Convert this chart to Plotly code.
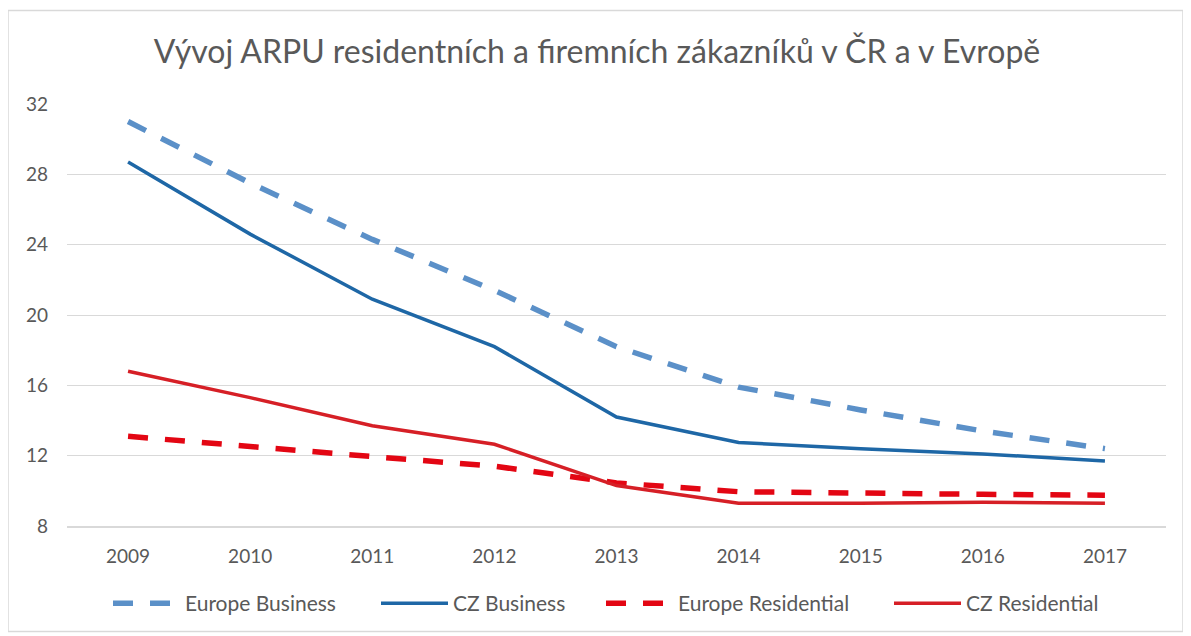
import plotly.graph_objects as go

years = ["2009", "2010", "2011", "2012", "2013", "2014", "2015", "2016", "2017"]
europe_business = [31.0, 27.5, 24.3, 21.4, 18.2, 15.9, 14.6, 13.4, 12.4]
cz_business = [28.7, 24.6, 20.9, 18.2, 14.2, 12.75, 12.4, 12.1, 11.7]
europe_residential = [13.1, 12.5, 11.95, 11.4, 10.45, 9.95, 9.85, 9.8, 9.75]
cz_residential = [16.8, 15.3, 13.7, 12.65, 10.3, 9.3, 9.3, 9.35, 9.3]
y_ticks = [8, 12, 16, 20, 24, 28, 32]

title_text = "Vývoj ARPU residentních a firemních zákazníků v ČR a v Evropě"

FONT = "Lato"
GREY = "#595959"
OFF = 8  # page body margin offset

W, H = 1191 - OFF, 636 - OFF
L, R, T, B = 67 - OFF, 1166 - OFF, 104 - OFF, 528 - OFF

def px_x(p):
    return (p - OFF - L) / (R - L)

def px_y(p):
    return (B - (p - OFF)) / (B - T)

fig = go.Figure()
fig.add_trace(go.Scatter(x=years, y=europe_business, name="Europe Business", mode="lines",
                         legend="legend",
                         line=dict(color="#5b90c8", width=5.5, dash="20px,17px")))
fig.add_trace(go.Scatter(x=years, y=cz_business, name="CZ Business", mode="lines",
                         legend="legend2",
                         line=dict(color="#1e67a6", width=3.5)))
fig.add_trace(go.Scatter(x=years, y=europe_residential, name="Europe Residential", mode="lines",
                         legend="legend3",
                         line=dict(color="#e30613", width=5.5, dash="20px,17px")))
fig.add_trace(go.Scatter(x=years, y=cz_residential, name="CZ Residential", mode="lines",
                         legend="legend4",
                         line=dict(color="#d61f26", width=3.5)))

def leg(sym_start):
    return dict(orientation="h", x=px_x(sym_start - 5), xanchor="left",
                y=px_y(606), yanchor="middle",
                font=dict(family=FONT, size=21, color=GREY), itemwidth=67,
                bgcolor="rgba(0,0,0,0)")

fig.update_layout(
    width=W, height=H,
    margin=dict(l=L, r=W - R, t=T, b=H - B),
    paper_bgcolor="white", plot_bgcolor="white",
    font=dict(family=FONT, color=GREY, size=19),
    title=dict(text=title_text, x=(597 - OFF) / W, xanchor="center", xref="container",
               y=1 - (52 - OFF) / H, yanchor="middle", yref="container",
               font=dict(family=FONT, size=32, color=GREY)),
    xaxis=dict(range=[-0.5, 8.5], showgrid=False, zeroline=False, showline=True,
               linecolor="#d9d9d9", linewidth=1.5,
               tickfont=dict(size=19, color=GREY), ticklabelstandoff=12),
    yaxis=dict(range=[8, 32], tickvals=y_ticks, showgrid=True, gridcolor="#d9d9d9", gridwidth=1.2,
               zeroline=False, showline=False, tickfont=dict(size=19, color=GREY),
               ticklabelstandoff=18),
    legend=leg(113),
    legend2=leg(381),
    legend3=leg(606),
    legend4=leg(894),
    shapes=[dict(type="rect", xref="paper", yref="paper",
                 x0=px_x(8), x1=px_x(1183), y0=px_y(634), y1=px_y(10),
                 line=dict(color="#d9d9d9", width=1.5), layer="below")],
    showlegend=True,
)

fig.write_html("out.html")
